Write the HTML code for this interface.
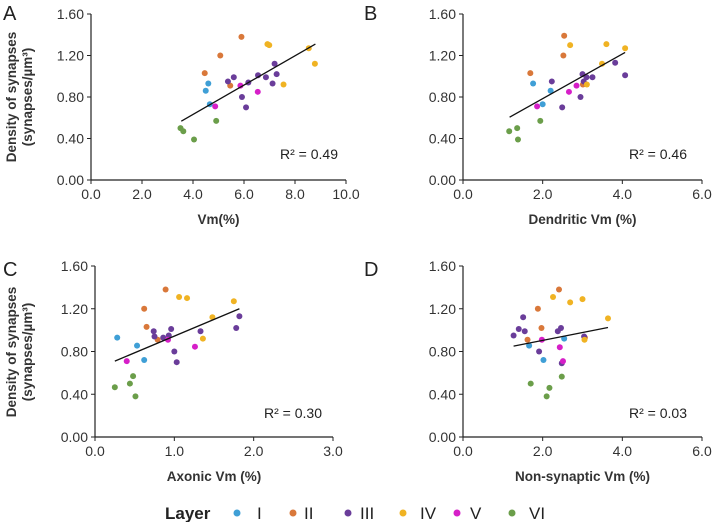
<!DOCTYPE html>
<html><head><meta charset="utf-8"><style>
body{margin:0;background:#fff;}
svg{display:block;font-family:"Liberation Sans","DejaVu Sans",sans-serif;}
</style></head><body>
<svg id="fig" width="718" height="522" viewBox="0 0 718 522">
<g fill="#222" font-size="20">
<text x="3" y="20">A</text>
<text x="364" y="20">B</text>
<text x="3" y="276">C</text>
<text x="364" y="276">D</text>
</g>
<g fill="#333" font-size="13.5" font-weight="bold" text-anchor="middle">
<text transform="translate(16,97) rotate(-90)">Density of synapses</text>
<text transform="translate(32,97) rotate(-90)">(synapses/µm³)</text>
<text transform="translate(16,352) rotate(-90)">Density of synapses</text>
<text transform="translate(32,352) rotate(-90)">(synapses/µm³)</text>
</g>
<g id="legend" font-size="17" fill="#222">
<text x="165" y="519" font-weight="bold">Layer</text>
</g>
</svg>
<script>
const layerNames=["I","II","III","IV","V","VI"];
const layerColors=["#3f9fd6","#d9783a","#6a3d9a","#f0b323","#d61fc8","#6b9e4a"];
// panel A: Vm(%)
const xA=[4.6,4.5,4.66, 4.46,5.07,5.9,5.46, 5.37,5.6,6.17,6.55,6.86,7.2,7.28,7.12,5.92,6.08, 6.92,6.99,8.54,8.78,7.55, 5.86,6.54,4.87, 4.91,3.51,3.62,4.04];
const yA=[0.93,0.86,0.73, 1.03,1.20,1.38,0.91, 0.95,0.99,0.94,1.01,0.99,1.12,1.02,0.93,0.80,0.70, 1.31,1.30,1.27,1.12,0.92, 0.91,0.85,0.71, 0.57,0.50,0.47,0.39];
const layerA=[0,0,0, 1,1,1,1, 2,2,2,2,2,2,2,2,2,2, 3,3,3,3,3, 4,4,4, 5,5,5,5];
const fitA=[[3.54,0.567],[8.8,1.31]];
// panel B: Dendritic Vm
const xB=[1.76,2.2,2.0, 1.69,2.54,2.52,3.01, 2.23,3.0,3.1,3.25,3.03,3.82,4.07,2.95,2.49, 2.69,3.6,4.07,3.49,3.11, 2.85,2.66,1.86, 1.94,1.16,1.36,1.38];
const yB=[0.93,0.86,0.73, 1.03,1.39,1.20,0.92, 0.95,1.02,0.99,0.99,0.95,1.13,1.01,0.80,0.70, 1.30,1.31,1.27,1.12,0.92, 0.91,0.85,0.71, 0.57,0.47,0.50,0.39];
const layerB=[0,0,0, 1,1,1,1, 2,2,2,2,2,2,2,2,2, 3,3,3,3,3, 4,4,4, 5,5,5,5];
const fitB=[[1.17,0.605],[4.07,1.23]];
// panel C: Axonic Vm
const xC=[0.28,0.53,0.62, 0.65,0.89,0.62,0.79, 0.74,0.75,0.96,0.86,0.93,1.33,1.78,1.82,1.0,1.03, 1.06,1.16,1.75,1.48,1.36, 0.92,1.26,0.40, 0.48,0.25,0.44,0.51];
const yC=[0.93,0.855,0.72, 1.03,1.38,1.20,0.91, 0.99,0.94,1.01,0.93,0.95,0.99,1.02,1.13,0.80,0.70, 1.31,1.30,1.27,1.12,0.92, 0.91,0.845,0.71, 0.57,0.465,0.50,0.38];
const layerC=[0,0,0, 1,1,1,1, 2,2,2,2,2,2,2,2,2,2, 3,3,3,3,3, 4,4,4, 5,5,5,5];
const fitC=[[0.25,0.71],[1.82,1.20]];
// panel D: Non-synaptic Vm
const xD=[1.66,2.02,2.54, 2.41,1.88,1.97,1.62,3.06, 1.27,1.40,1.55,1.51,2.38,2.46,1.91,2.48,3.04, 2.26,2.69,3.0,3.64,3.05, 1.98,2.43,2.51, 2.48,1.70,2.17,2.1];
const yD=[0.855,0.72,0.92, 1.38,1.20,1.02,0.91,0.93, 0.95,1.01,0.99,1.12,0.99,1.02,0.80,0.69,0.94, 1.31,1.26,1.29,1.11,0.91, 0.91,0.84,0.71, 0.565,0.50,0.46,0.38];
const layerD=[0,0,0, 1,1,1,1,1, 2,2,2,2,2,2,2,2,2, 3,3,3,3,3, 4,4,4, 5,5,5,5];
const fitD=[[1.27,0.85],[3.64,1.025]];
const yTicks=[0,0.4,0.8,1.2,1.6];
const xTicksA=[0,2,4,6,8,10];
const xTicks6=[0,2,4,6];
const xTicks3=[0,1,2,3];
const r2Labels=["R² = 0.49","R² = 0.46","R² = 0.30","R² = 0.03"];

const NS="http://www.w3.org/2000/svg";
const svg=document.getElementById('fig');
function mk(tag,attrs,parent){const e=document.createElementNS(NS,tag);for(const k in attrs)e.setAttribute(k,attrs[k]);(parent||svg).appendChild(e);return e;}

function panel(id,px0,px1,py0,py1,xmax,xt,xdec,title,xs,ys,ls,fit,r2,r2x,r2y){
  const g=mk('g',{});
  
  
  const sx=v=>px0+(px1-px0)*v/xmax;
  const sy=v=>py0-(py0-py1)*v/1.6;
  const ya=mk('line',{x1:px0,y1:py0,x2:px0,y2:py1,stroke:'#222','stroke-width':1.2},g);
  
  
  const xa=mk('line',{x1:px0,y1:py0,x2:px1,y2:py0,stroke:'#222','stroke-width':1.2},g);
  
  
  yTicks.forEach(v=>{
    mk('line',{x1:px0-4,y1:sy(v),x2:px0,y2:sy(v),stroke:'#222'},g);
    const t=mk('text',{x:px0-7,y:sy(v)+5,'text-anchor':'end','font-size':14,fill:'#333'},g);
    t.textContent=v.toFixed(2);
    
    
  });
  xt.forEach(v=>{
    mk('line',{x1:sx(v),y1:py0,x2:sx(v),y2:py0+4,stroke:'#222'},g);
    const t=mk('text',{x:sx(v),y:py0+19,'text-anchor':'middle','font-size':14,fill:'#333'},g);
    t.textContent=v.toFixed(xdec);
    
    
  });
  const tt=mk('text',{x:(px0+px1)/2,y:py0+44,'text-anchor':'middle','font-size':13.5,'font-weight':'bold',fill:'#333'},g);
  tt.textContent=title;
  
  
  xs.forEach((x,i)=>{
    const c=mk('circle',{cx:sx(x),cy:sy(ys[i]),r:3,fill:layerColors[ls[i]]},g);
    
    
  });
  const ln=mk('line',{x1:sx(fit[0][0]),y1:sy(fit[0][1]),x2:sx(fit[1][0]),y2:sy(fit[1][1]),stroke:'#111','stroke-width':1.3},g);
  
  
  const rt=mk('text',{x:r2x,y:r2y,'font-size':14,fill:'#222'},g);
  rt.textContent=r2;
  
  
}
panel('a',91,346,180,14,10,xTicksA,1,'Vm(%)',xA,yA,layerA,fitA,r2Labels[0],280,159);
panel('b',463,702,180,14,6,xTicks6,1,'Dendritic Vm (%)',xB,yB,layerB,fitB,r2Labels[1],629,159);
panel('c',95,333,437,266,3,xTicks3,1,'Axonic Vm (%)',xC,yC,layerC,fitC,r2Labels[2],264,418);
panel('d',463,702,437,266,6,xTicks6,1,'Non-synaptic Vm (%)',xD,yD,layerD,fitD,r2Labels[3],629,418);

const lg=document.getElementById('legend');
const dotX=[237,293,348,403,457,512];
layerNames.forEach((n,i)=>{
  const c=mk('circle',{cx:dotX[i],cy:513,r:3.5,fill:layerColors[i]},lg);
  
  
  const t=mk('text',{x:dotX[i]+(i==0?20:i==1?11:i==2?12:i==3?17:i==4?13:17),y:519,'font-size':17},lg);
  t.textContent=n;
  
  
});
</script>
</body></html>
